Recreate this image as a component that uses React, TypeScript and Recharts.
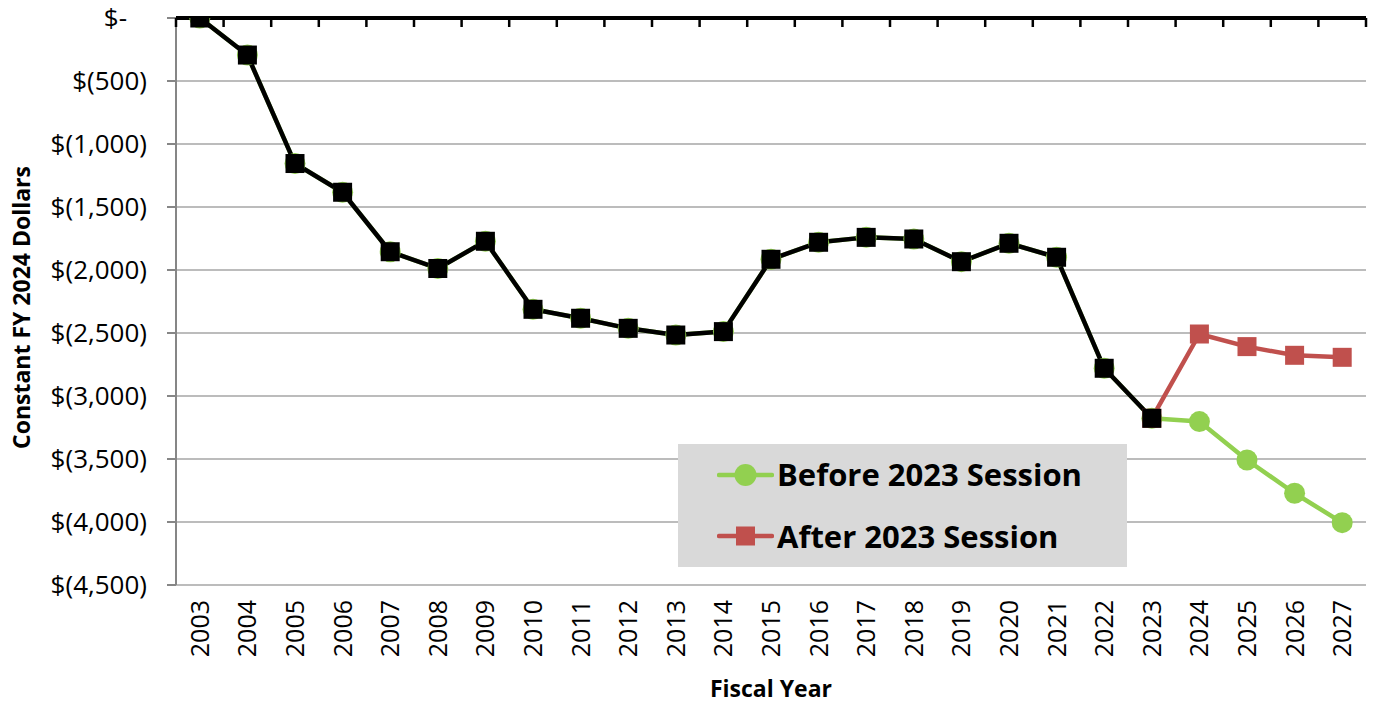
import React from 'react';
import { LineChart, Line, XAxis, YAxis, CartesianGrid, Legend, ReferenceLine } from 'recharts';

const years = [
  '2003', '2004', '2005', '2006', '2007', '2008', '2009', '2010', '2011', '2012', '2013', '2014', '2015',
  '2016', '2017', '2018', '2019', '2020', '2021', '2022', '2023', '2024', '2025', '2026', '2027',
];

const historyValues: (number | null)[] = [
  0, -294, -1155, -1383, -1855, -1988, -1772, -2312, -2383, -2463, -2516, -2489, -1915,
  -1780, -1741, -1754, -1934, -1788, -1899, -2780, -3177, null, null, null, null,
];

const beforeValues: (number | null)[] = [
  0, -294, -1155, -1383, -1855, -1988, -1772, -2312, -2383, -2463, -2516, -2489, -1915,
  -1780, -1741, -1754, -1934, -1788, -1899, -2780, -3177, -3203, -3508, -3772, -4005,
];

const afterValues: (number | null)[] = [
  null, null, null, null, null, null, null, null, null, null, null, null, null,
  null, null, null, null, null, null, null, -3177, -2508, -2608, -2677, -2693,
];

const yTicks = [0, -500, -1000, -1500, -2000, -2500, -3000, -3500, -4000, -4500];

const seriesInfo = [
  { key: 'before', name: 'Before 2023 Session', color: '#92D050', marker: 'circle' },
  { key: 'after', name: 'After 2023 Session', color: '#C0504D', marker: 'square' },
];

const data = years.map((year, i) => ({
  year,
  history: historyValues[i],
  before: beforeValues[i],
  after: afterValues[i],
}));

const FONT = '"Open Sans", sans-serif';
const CHART_W = 1375;
const CHART_H = 707;
const MARGIN = { top: 18, right: 9, left: 0, bottom: 0 };
const Y_AXIS_W = 176;
const PLOT_LEFT = MARGIN.left + Y_AXIS_W;
const PLOT_W = CHART_W - MARGIN.left - MARGIN.right - Y_AXIS_W;
const STEP = PLOT_W / years.length;
const X_PAD = { left: STEP / 2, right: STEP / 2 };
const TICK_LEN = 9;

const fmt = (v: number) => (v === 0 ? '$-' : `$(${Math.abs(v).toLocaleString('en-US')})`);

const YTick = (props: any) => {
  const { x, y, payload } = props;
  const shift = payload.value === 0 ? -20 : 0;
  return (
    <text x={x + shift} y={y} dy="0.36em" textAnchor="end" fontFamily={FONT} fontSize={26} fill="#000">
      {fmt(payload.value)}
    </text>
  );
};

const XTick = (props: any) => {
  const { x, y, payload } = props;
  return (
    <text
      x={x}
      y={y}
      transform={`rotate(-90 ${x} ${y})`}
      textAnchor="end"
      dy="0.36em"
      fontFamily={FONT}
      fontSize={25}
      fill="#000"
    >
      {payload.value}
    </text>
  );
};

const YLabel = (props: any) => {
  const vb = props.viewBox || { x: 0, y: 18, width: 176, height: 567 };
  const cy = vb.y + vb.height / 2 + 6;
  const top = vb.y;
  const left = vb.x + vb.width;
  const marks = [];
  for (let i = 0; i <= years.length; i++) {
    const mx = left + i * STEP;
    marks.push(<rect key={`m${i}`} x={mx - 1.25} y={top} width={2.5} height={TICK_LEN} fill="#000" />);
  }
  return (
    <g>
      <line x1={left} x2={left + PLOT_W} y1={top} y2={top} stroke="#000" strokeWidth={4} />
      {marks}
      <text
        x={30}
        y={cy}
        transform={`rotate(-90 30 ${cy})`}
        textAnchor="middle"
        fontFamily={FONT}
        fontWeight={700}
        fontSize={23}
        fill="#000"
      >
        Constant FY 2024 Dollars
      </text>
    </g>
  );
};

const XLabel = (props: any) => {
  const vb = props.viewBox || { x: 176, y: 585, width: 1190 };
  return (
    <text
      x={vb.x + vb.width / 2}
      y={vb.y + 112}
      textAnchor="middle"
      fontFamily={FONT}
      fontWeight={700}
      fontSize={23}
      fill="#000"
    >
      Fiscal Year
    </text>
  );
};

const squareDot = (color: string, size: number) => (props: any) => {
  const { cx, cy, value, index } = props;
  if (cx == null || cy == null || value == null) return <g key={`s-${index}`} />;
  return <rect key={`s-${index}`} x={cx - size / 2} y={cy - size / 2} width={size} height={size} fill={color} />;
};

const circleDot = (color: string, r: number) => (props: any) => {
  const { cx, cy, value, index } = props;
  if (cx == null || cy == null || value == null) return <g key={`c-${index}`} />;
  return <circle key={`c-${index}`} cx={cx} cy={cy} r={r} fill={color} />;
};

const LegendContent = () => {
  return (
    <div
      style={{
        background: '#D9D9D9',
        width: 449,
        height: 123,
        display: 'flex',
        flexDirection: 'column',
        justifyContent: 'center',
        boxSizing: 'border-box',
      }}
    >
      {seriesInfo.map((info) => (
        <div key={info.key} style={{ display: 'flex', alignItems: 'center', height: 62, paddingLeft: 39 }}>
          <svg width={57} height={24} style={{ display: 'block' }}>
            <line x1={2} x2={55} y1={12} y2={12} stroke={info.color} strokeWidth={4.5} strokeLinecap="round" />
            {info.marker === 'circle' ? (
              <circle cx={28.5} cy={12} r={11} fill={info.color} />
            ) : (
              <rect x={19} y={2.5} width={19} height={19} fill={info.color} />
            )}
          </svg>
          <span
            style={{
              marginLeft: 3,
              fontFamily: FONT,
              fontWeight: 700,
              fontSize: 31,
              color: '#000',
              lineHeight: 1,
              whiteSpace: 'nowrap',
            }}
          >
            {info.name}
          </span>
        </div>
      ))}
    </div>
  );
};

export default function App() {
  return (
    <div style={{ position: 'absolute', left: 0, top: 0, width: CHART_W, height: CHART_H, background: '#fff' }}>
      <LineChart width={CHART_W} height={CHART_H} data={data} margin={MARGIN}>
        <CartesianGrid vertical={false} stroke="#A6A6A6" strokeWidth={1.5} />
        <XAxis
          xAxisId="bottom"
          dataKey="year"
          orientation="bottom"
          height={122}
          padding={X_PAD}
          axisLine={false}
          tickLine={false}
          tickSize={0}
          tickMargin={15}
          interval={0}
          tick={<XTick />}
          label={<XLabel />}
        />
        <YAxis
          width={Y_AXIS_W}
          domain={[-4500, 0]}
          ticks={yTicks}
          interval={0}
          allowDataOverflow
          axisLine={{ stroke: '#868686', strokeWidth: 2 }}
          tickLine={{ stroke: '#868686', strokeWidth: 2 }}
          tickSize={9}
          tickMargin={20}
          tick={<YTick />}
          label={<YLabel />}
        />
        <ReferenceLine xAxisId="bottom" y={0} stroke="#000" strokeWidth={4} ifOverflow="visible" />
        <Legend
          layout="vertical"
          align="center"
          verticalAlign="middle"
          content={<LegendContent />}
          wrapperStyle={{ left: 678, top: 444, width: 449, height: 123 }}
        />
        <Line
          xAxisId="bottom"
          dataKey="before"
          name="Before 2023 Session"
          stroke="#92D050"
          strokeWidth={4.5}
          strokeLinejoin="round"
          dot={circleDot('#92D050', 10.5)}
          activeDot={false}
          isAnimationActive={false}
        />
        <Line
          xAxisId="bottom"
          dataKey="after"
          name="After 2023 Session"
          stroke="#C0504D"
          strokeWidth={4.5}
          strokeLinejoin="round"
          dot={squareDot('#C0504D', 19)}
          activeDot={false}
          isAnimationActive={false}
        />
        <Line
          xAxisId="bottom"
          dataKey="history"
          name="History"
          stroke="#000"
          strokeWidth={4.5}
          strokeLinejoin="round"
          dot={squareDot('#000', 19)}
          activeDot={false}
          legendType="none"
          isAnimationActive={false}
        />
      </LineChart>
    </div>
  );
}
